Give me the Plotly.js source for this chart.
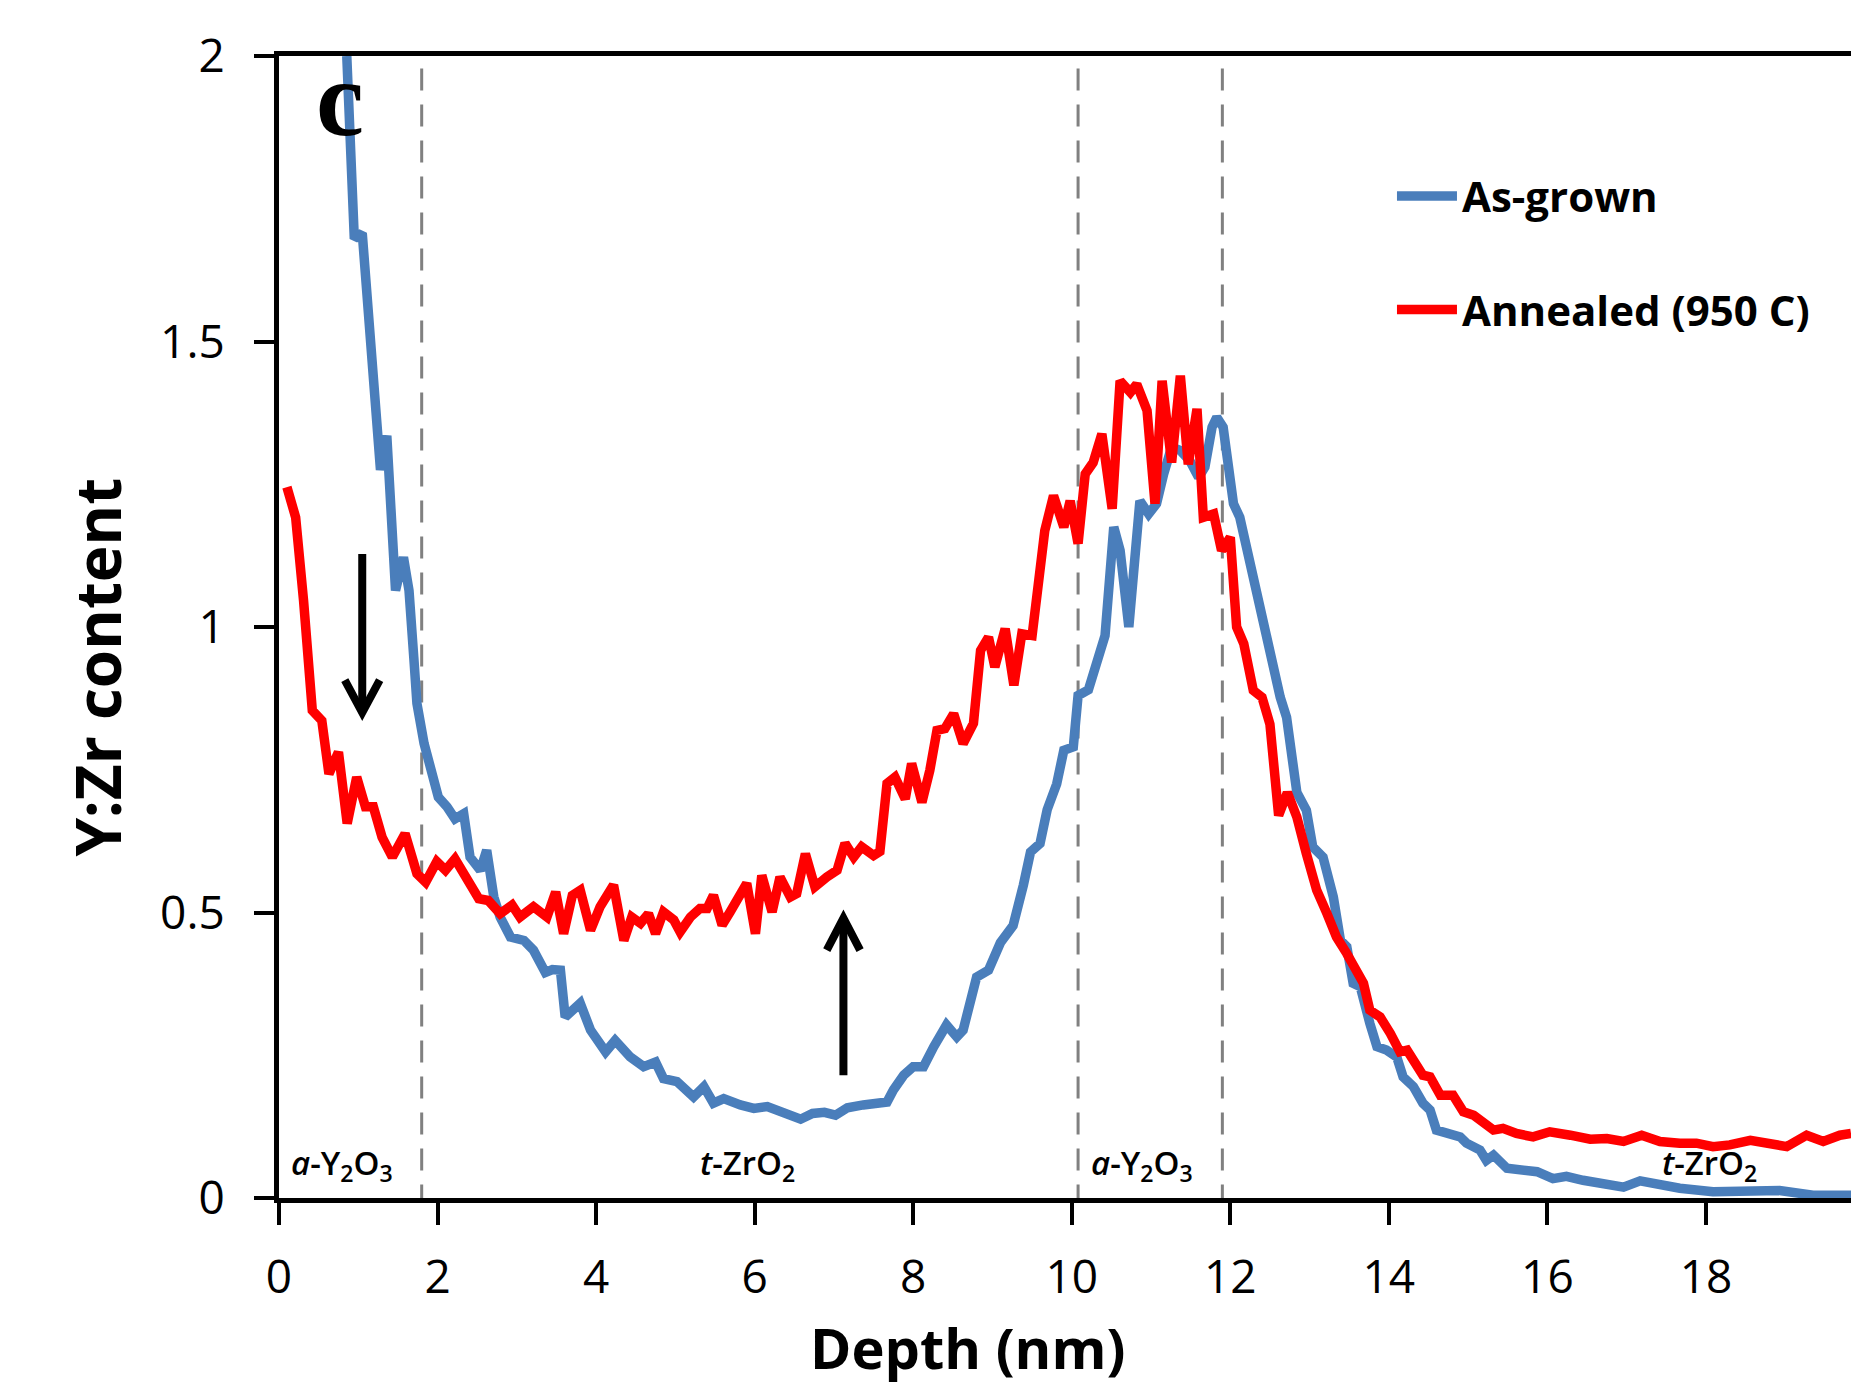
<!DOCTYPE html>
<html>
<head>
<meta charset="utf-8">
<script src="https://cdn.plot.ly/plotly-3.0.1.min.js"></script>
<style>
  html, body { margin: 0; padding: 0; background: #ffffff; overflow: hidden; }
  #chart { width: 1851px; height: 1384px; }
</style>
</head>
<body>
<div id="chart"></div>
<script>
// ---------- data ----------
const seriesNames = ["As-grown", "Annealed (950 C)"];

const depthAsGrown = [0.855,0.95,1.05,1.20,1.28,1.36,1.47,1.57,1.64,1.70,1.74,1.83,1.93,2.01,2.12,2.22,2.33,2.41,2.54,2.62,2.71,2.79,2.92,3.09,3.21,3.36,3.45,3.55,3.61,3.80,3.93,4.12,4.24,4.43,4.60,4.75,4.85,5.02,5.23,5.36,5.48,5.61,5.82,5.99,6.16,6.32,6.46,6.58,6.73,6.88,7.02,7.17,7.37,7.54,7.67,7.75,7.88,8.00,8.13,8.26,8.42,8.55,8.63,8.80,8.95,9.10,9.26,9.39,9.48,9.60,9.69,9.81,9.90,10.02,10.08,10.21,10.32,10.42,10.53,10.61,10.72,10.80,10.86,10.97,11.07,11.16,11.26,11.37,11.49,11.60,11.68,11.77,11.83,11.91,11.98,12.04,12.12,12.21,12.27,12.35,12.44,12.52,12.63,12.71,12.77,12.84,12.96,13.04,13.17,13.30,13.39,13.47,13.55,13.64,13.76,13.85,13.97,14.10,14.18,14.31,14.43,14.52,14.60,14.73,14.90,14.98,15.15,15.23,15.32,15.49,15.70,15.87,16.07,16.24,16.45,16.66,16.96,17.17,17.67,18.09,18.93,19.35,19.83];
const yzAsGrown    = [2.0,1.68,1.69,1.45,1.275,1.335,1.064,1.122,1.064,0.947,0.866,0.796,0.743,0.702,0.685,0.664,0.673,0.597,0.574,0.609,0.527,0.492,0.457,0.451,0.434,0.395,0.40,0.399,0.317,0.341,0.294,0.256,0.276,0.247,0.230,0.238,0.209,0.204,0.177,0.195,0.166,0.174,0.163,0.157,0.160,0.150,0.142,0.138,0.148,0.150,0.145,0.158,0.163,0.168,0.168,0.189,0.215,0.230,0.230,0.265,0.303,0.282,0.294,0.387,0.399,0.447,0.477,0.548,0.606,0.621,0.680,0.725,0.784,0.790,0.880,0.890,0.944,0.985,1.175,1.134,1.0,1.157,1.221,1.198,1.216,1.268,1.315,1.309,1.291,1.262,1.280,1.350,1.367,1.350,1.280,1.216,1.192,1.134,1.099,1.046,0.988,0.936,0.877,0.842,0.780,0.710,0.679,0.615,0.597,0.527,0.451,0.440,0.376,0.370,0.306,0.265,0.259,0.247,0.212,0.195,0.166,0.154,0.119,0.113,0.107,0.096,0.084,0.066,0.075,0.052,0.050,0.046,0.034,0.038,0.031,0.026,0.019,0.030,0.017,0.011,0.013,0.005,0.005];

const depthAnnealed = [0.10,0.21,0.31,0.42,0.54,0.63,0.75,0.86,0.98,1.09,1.19,1.30,1.43,1.59,1.74,1.85,1.99,2.10,2.22,2.37,2.52,2.64,2.79,2.94,3.04,3.21,3.38,3.49,3.59,3.70,3.80,3.93,4.05,4.22,4.35,4.45,4.56,4.66,4.75,4.85,4.98,5.06,5.19,5.31,5.40,5.48,5.59,5.69,5.82,5.90,6.01,6.09,6.22,6.32,6.45,6.53,6.64,6.76,6.91,7.04,7.14,7.25,7.35,7.50,7.58,7.67,7.77,7.90,7.98,8.11,8.21,8.30,8.40,8.51,8.63,8.76,8.85,8.95,9.03,9.16,9.27,9.37,9.50,9.58,9.66,9.77,9.90,9.98,10.08,10.17,10.27,10.38,10.51,10.61,10.74,10.82,10.95,11.05,11.14,11.26,11.37,11.47,11.58,11.66,11.79,11.89,12.00,12.08,12.17,12.29,12.40,12.50,12.61,12.72,12.84,12.96,13.09,13.22,13.34,13.47,13.60,13.68,13.76,13.89,14.02,14.14,14.23,14.35,14.43,14.52,14.65,14.81,14.94,15.07,15.19,15.32,15.44,15.61,15.82,16.03,16.29,16.54,16.75,16.96,17.19,17.42,17.67,17.88,18.09,18.30,18.56,18.81,19.02,19.27,19.48,19.69,19.83];
const yzAnnealed    = [1.245,1.192,1.046,0.854,0.836,0.743,0.781,0.656,0.737,0.685,0.685,0.632,0.597,0.638,0.568,0.553,0.589,0.574,0.594,0.556,0.524,0.521,0.498,0.513,0.492,0.510,0.492,0.536,0.463,0.530,0.539,0.469,0.510,0.548,0.451,0.492,0.481,0.498,0.463,0.501,0.487,0.466,0.492,0.507,0.507,0.530,0.478,0.501,0.530,0.551,0.463,0.565,0.501,0.562,0.527,0.533,0.603,0.545,0.562,0.574,0.621,0.597,0.615,0.600,0.607,0.726,0.737,0.699,0.761,0.693,0.749,0.819,0.822,0.848,0.796,0.831,0.959,0.982,0.930,0.997,0.898,0.988,0.985,1.087,1.169,1.230,1.175,1.221,1.146,1.268,1.288,1.338,1.207,1.431,1.411,1.425,1.379,1.216,1.431,1.288,1.440,1.285,1.382,1.192,1.198,1.134,1.157,1.000,0.971,0.889,0.877,0.830,0.670,0.710,0.667,0.603,0.539,0.498,0.457,0.428,0.393,0.376,0.329,0.317,0.288,0.256,0.259,0.236,0.215,0.212,0.180,0.180,0.151,0.145,0.134,0.119,0.122,0.113,0.107,0.116,0.110,0.103,0.104,0.099,0.110,0.099,0.096,0.096,0.090,0.093,0.101,0.094,0.090,0.110,0.099,0.110,0.113];

const xTickVals = [0, 2, 4, 6, 8, 10, 12, 14, 16, 18];
const yTickVals = [0, 0.5, 1, 1.5, 2];
const yTickText = ["0", "0.5", "1", "1.5", "2"];

const boundaryDepths = [1.80, 10.08, 11.90];
const regionLabels = ["<i>a</i>-Y<sub>2</sub>O<sub>3</sub>", "<i>t</i>-ZrO<sub>2</sub>", "<i>a</i>-Y<sub>2</sub>O<sub>3</sub>", "<i>t</i>-ZrO<sub>2</sub>"];
const regionDepths = [0.80, 5.91, 10.89, 18.05];

const xTitle = "Depth (nm)";
const yTitle = "Y:Zr content";
const panelLabel = "c";

// ---------- styling ----------
const FONT = "'Open Sans', 'DejaVu Sans', sans-serif";
const blue = "#4a7ebb";
const red = "#ff0000";

const traces = [
  { x: depthAsGrown, y: yzAsGrown, name: seriesNames[0], type: "scatter", mode: "lines",
    line: { color: blue, width: 9.5 }, legendgroup: "g1" },
  { x: depthAnnealed, y: yzAnnealed, name: seriesNames[1], type: "scatter", mode: "lines",
    line: { color: red, width: 9.5 }, legendgroup: "g2" }
];

const shapes = boundaryDepths.map(d => ({
  type: "line", xref: "x", yref: "y", x0: d, x1: d, y0: -0.015, y1: 2,
  line: { color: "#808080", width: 3, dash: "22px,14px" }, layer: "below"
}));

// arrows (shaft + open chevron head)
const arrowStyle = { color: "#000000", width: 8 };
shapes.push(
  { type: "line", xref: "x", yref: "y", x0: 1.05, x1: 1.05, y0: 1.128, y1: 0.86, line: arrowStyle },
  { type: "path", xref: "x", yref: "y", path: "M 0.83 0.907 L 1.05 0.85 L 1.27 0.907", line: arrowStyle },
  { type: "line", xref: "x", yref: "y", x0: 7.12, x1: 7.12, y0: 0.215, y1: 0.48, line: arrowStyle },
  { type: "path", xref: "x", yref: "y", path: "M 6.91 0.434 L 7.12 0.49 L 7.33 0.434", line: arrowStyle }
);

const annotations = regionLabels.map((t, i) => ({
  text: t, x: regionDepths[i], y: 0.058, xref: "x", yref: "y",
  xanchor: "center", yanchor: "middle", showarrow: false,
  font: { family: FONT, size: 33, color: "#000000", weight: 600 }
}));

annotations.push(
  { text: panelLabel, x: 0.77, y: 1.925, xref: "x", yref: "y", xanchor: "center", yanchor: "middle",
    showarrow: false, font: { family: "'Liberation Serif', 'DejaVu Serif', serif", size: 108, color: "#000000", weight: 700 } },
  { text: "<b>" + xTitle + "</b>", x: 0.4377, y: -0.1305, xref: "paper", yref: "paper", xanchor: "center", yanchor: "middle",
    showarrow: false, font: { family: FONT, size: 56, color: "#000000" } },
  { text: "<b>" + yTitle + "</b>", x: -0.116, y: 0.465, xref: "paper", yref: "paper", xanchor: "center", yanchor: "middle",
    textangle: -90, showarrow: false, font: { family: FONT, size: 62, color: "#000000" } }
);

const layout = {
  width: 1851, height: 1384,
  margin: { l: 279, r: 0, t: 56, b: 186, pad: 0 },
  paper_bgcolor: "#ffffff", plot_bgcolor: "#ffffff",
  font: { family: FONT, color: "#000000" },
  showlegend: true,
  legend: {
    x: 0.708, y: 0.907, xanchor: "left", yanchor: "top",
    bgcolor: "rgba(0,0,0,0)", borderwidth: 0,
    font: { family: FONT, size: 42, color: "#000000", weight: 700 },
    tracegroupgap: 56, itemwidth: 60, traceorder: "grouped"
  },
  xaxis: {
    range: [0, 19.83], tickvals: xTickVals, ticktext: xTickVals.map(String),
    showgrid: false, zeroline: false,
    showline: true, linecolor: "#000000", linewidth: 5, mirror: true,
    ticks: "outside", ticklen: 22, tickwidth: 4, tickcolor: "#000000",
    tickfont: { family: FONT, size: 46, color: "#000000" },
    ticklabelstandoff: 13
  },
  yaxis: {
    range: [0, 2], tickvals: yTickVals, ticktext: yTickText,
    showgrid: false, zeroline: false,
    showline: true, linecolor: "#000000", linewidth: 5, mirror: false,
    ticks: "outside", ticklen: 20, tickwidth: 4, tickcolor: "#000000",
    tickfont: { family: FONT, size: 46, color: "#000000" },
    ticklabelstandoff: 20
  },
  shapes: shapes,
  annotations: annotations
};

Plotly.newPlot("chart", traces, layout, { staticPlot: true, displayModeBar: false });
</script>
</body>
</html>
